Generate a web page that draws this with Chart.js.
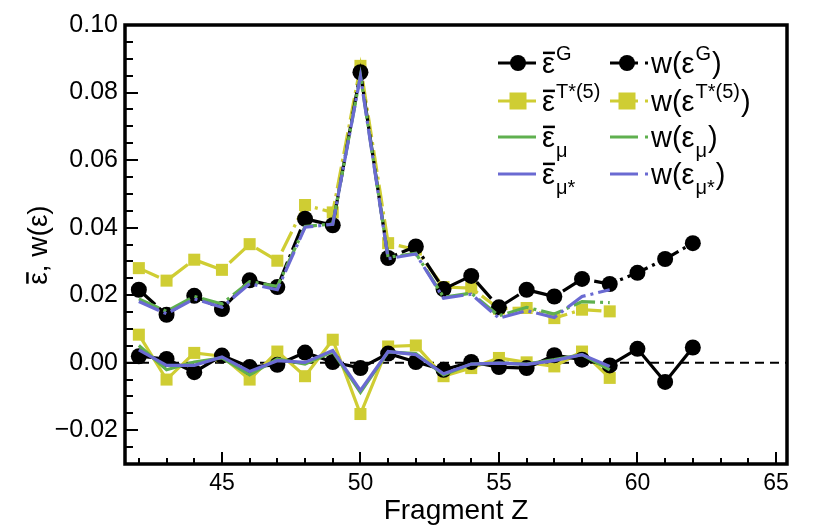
<!DOCTYPE html>
<html>
<head>
<meta charset="utf-8">
<script src="https://cdn.jsdelivr.net/npm/chart.js@4"></script>
<style>
  html, body { margin: 0; padding: 0; background: #fff; }
  #wrap { width: 831px; height: 528px; }
</style>
</head>
<body>
<div id="wrap"><canvas id="chart" width="831" height="528"></canvas></div>
<script>
// fragment charge numbers
const zG = [42, 43, 44, 45, 46, 47, 48, 49, 50, 51, 52, 53, 54, 55, 56, 57, 58, 59, 60, 61, 62];
const zT = [42, 43, 44, 45, 46, 47, 48, 49, 50, 51, 52, 53, 54, 55, 56, 57, 58, 59];

// widths w(eps)
const wG = [0.0216, 0.0142, 0.0198, 0.0159, 0.0244, 0.0224, 0.0426, 0.0407, 0.0860, 0.0310, 0.0344,
            0.0218, 0.0257, 0.0164, 0.0216, 0.0196, 0.0248, 0.0233, 0.0266, 0.0307, 0.0354];
const wT = [0.0280, 0.0243, 0.0305, 0.0275, 0.0351, 0.0302, 0.0467, 0.0445, 0.0879, 0.0354, 0.0335,
            0.0224, 0.0221, 0.0160, 0.0162, 0.0132, 0.0157, 0.0152];
const wMu = [0.0189, 0.0152, 0.0196, 0.0174, 0.0240, 0.0226, 0.0403, 0.0411, 0.0850, 0.0312, 0.0324,
             0.0194, 0.0206, 0.0139, 0.0164, 0.0144, 0.0181, 0.0178];
const wMuS = [0.0181, 0.0145, 0.0189, 0.0164, 0.0234, 0.0216, 0.0401, 0.0410, 0.0848, 0.0308, 0.0322,
              0.0191, 0.0203, 0.0132, 0.0154, 0.0134, 0.0196, 0.0216];

// means eps-bar
const meanG = [0.0019, 0.0011, -0.0028, 0.0021, -0.0013, -0.0006, 0.0030, 0.0002, -0.0016, 0.0027, 0.0002,
               -0.0021, 0.0002, -0.0013, -0.0016, 0.0022, 0.0009, -0.0008, 0.0041, -0.0057, 0.0045];
const meanT = [0.0083, -0.0050, 0.0029, 0.0019, -0.0050, 0.0033, -0.0040, 0.0068, -0.0152, 0.0048, 0.0051,
               -0.0040, -0.0016, 0.0014, 0.0001, -0.0011, 0.0033, -0.0045];
const meanMu = [0.0051, -0.0021, 0.0002, 0.0014, -0.0036, 0.0011, -0.0004, 0.0033, -0.0088, 0.0032, 0.0027,
                -0.0036, -0.0004, -0.0001, -0.0004, 0.0009, 0.0024, -0.0021];
const meanMuS = [0.0038, -0.0008, -0.0008, 0.0017, -0.0026, 0.0006, 0.0001, 0.0036, -0.0082, 0.0033, 0.0024,
                 -0.0033, -0.0004, -0.0001, -0.0005, 0.0006, 0.0024, -0.0011];

const yTicks = [-0.02, 0.00, 0.02, 0.04, 0.06, 0.08, 0.10];
const xTicks = [45, 50, 55, 60, 65];

const BLACK = '#000000';
const YELLOW = '#cfcd33';
const GREEN = '#5fb04f';
const BLUE = '#6a6ad2';
const DASH = [22, 5, 3, 5];
const FONT = '"Liberation Sans", Arial, Helvetica, sans-serif';

const pts = (xs, ys) => xs.map((x, i) => ({ x: x, y: ys[i] }));

function series(label, xs, ys, color, marker, dashed, order) {
    return {
        label: label,
        data: pts(xs, ys),
        borderColor: color,
        backgroundColor: color,
        borderWidth: 3.2,
        borderDash: dashed ? DASH : [],
        pointStyle: marker === 'none' ? false : marker,
        pointRadius: marker === 'circle' ? 8 : (marker === 'rect' ? 8.5 : 0),
        pointBorderWidth: 0,
        tension: 0,
        order: order
    };
}

const datasets = [
    series('meanT', zT, meanT, YELLOW, 'rect', false, 7),
    series('wT', zT, wT, YELLOW, 'rect', true, 6),
    series('meanG', zG, meanG, BLACK, 'circle', false, 5),
    series('wG', zG, wG, BLACK, 'circle', true, 4),
    series('meanMu', zT, meanMu, GREEN, 'none', false, 3),
    series('wMu', zT, wMu, GREEN, 'none', true, 2),
    series('meanMuS', zT, meanMuS, BLUE, 'none', false, 1),
    series('wMuS', zT, wMuS, BLUE, 'none', true, 0)
];

// zero reference line
const zeroLine = {
    id: 'zeroLine',
    beforeDatasetsDraw(chart) {
        const { ctx, chartArea, scales } = chart;
        const y = scales.y.getPixelForValue(0);
        ctx.save();
        ctx.strokeStyle = '#000';
        ctx.lineWidth = 2;
        ctx.setLineDash([9, 6]);
        ctx.beginPath();
        ctx.moveTo(chartArea.left, y);
        ctx.lineTo(chartArea.right, y);
        ctx.stroke();
        ctx.restore();
    }
};

// frame with inward ticks
const frame = {
    id: 'frame',
    afterDraw(chart) {
        const { ctx, chartArea: a, scales } = chart;
        ctx.save();
        ctx.strokeStyle = '#000';
        ctx.lineWidth = 2;
        for (let v = Math.ceil(scales.y.min / 0.005) * 0.005; v <= scales.y.max + 1e-9; v += 0.005) {
            const y = Math.round(scales.y.getPixelForValue(v));
            const major = Math.abs(Math.round(v / 0.02) * 0.02 - v) < 1e-6;
            ctx.beginPath();
            ctx.moveTo(a.left, y);
            ctx.lineTo(a.left + (major ? 13 : 8), y);
            ctx.stroke();
        }
        for (let v = Math.ceil(scales.x.min); v <= scales.x.max; v++) {
            const x = Math.round(scales.x.getPixelForValue(v));
            const major = v % 5 === 0;
            ctx.beginPath();
            ctx.moveTo(x, a.bottom);
            ctx.lineTo(x, a.bottom - (major ? 12 : 6));
            ctx.stroke();
        }
        ctx.lineWidth = 3.5;
        ctx.strokeRect(a.left, a.top, a.right - a.left, a.bottom - a.top);
        ctx.restore();
    }
};

// eps with optional overbar, superscript and subscript
function drawEps(ctx, x, y, bar, sup, sub, size) {
    ctx.font = size + 'px ' + FONT;
    ctx.fillText('ε', x, y);
    const w = ctx.measureText('ε').width;
    if (bar) {
        ctx.fillRect(x + 1, y - size * 0.53 - 6, w - 1, 2.5);
    }
    let end = x + w;
    const small = Math.round(size * 0.68);
    ctx.font = small + 'px ' + FONT;
    if (sup) {
        ctx.fillText(sup, end + 1, y - size * 0.45);
        end += ctx.measureText(sup).width + 1;
    }
    if (sub) {
        ctx.fillText(sub, end + 1, y + size * 0.33);
        end += ctx.measureText(sub).width + 1;
    }
    return end;
}

const legendRows = [
    { color: BLACK, marker: 'circle', sup: 'G', sub: null },
    { color: YELLOW, marker: 'rect', sup: 'T*(5)', sub: null },
    { color: GREEN, marker: null, sup: null, sub: 'μ' },
    { color: BLUE, marker: null, sup: null, sub: 'μ*' }
];
const legendY = [63, 101, 137, 174];

const legend = {
    id: 'customLegend',
    afterDraw(chart) {
        const ctx = chart.ctx;
        ctx.save();
        ctx.textBaseline = 'alphabetic';
        legendRows.forEach((r, i) => {
            const y = legendY[i];
            ctx.strokeStyle = r.color;
            ctx.fillStyle = r.color;
            ctx.lineWidth = 3.2;
            ctx.beginPath();
            ctx.moveTo(498, y);
            ctx.lineTo(536, y);
            ctx.stroke();
            ctx.beginPath();
            ctx.moveTo(610, y);
            ctx.lineTo(638, y);
            ctx.moveTo(645, y);
            ctx.lineTo(648, y);
            ctx.stroke();
            [518, 627].forEach(cx => {
                if (r.marker === 'circle') {
                    ctx.beginPath();
                    ctx.arc(cx, y, 8, 0, Math.PI * 2);
                    ctx.fill();
                } else if (r.marker === 'rect') {
                    ctx.fillRect(cx - 8.5, y - 8.5, 17, 17);
                }
            });
            ctx.fillStyle = '#000';
            const ty = y + 10;
            drawEps(ctx, 542, ty, true, r.sup, r.sub, 29);
            ctx.font = '29px ' + FONT;
            ctx.fillText('w(', 651, ty);
            let x = 651 + ctx.measureText('w(').width;
            x = drawEps(ctx, x, ty, false, r.sup, r.sub, 29);
            ctx.font = '29px ' + FONT;
            ctx.fillText(')', x + 1, ty);
        });
        ctx.restore();
    }
};

// rotated y title
const yTitle = {
    id: 'yTitle',
    afterDraw(chart) {
        const ctx = chart.ctx;
        const size = 28;
        ctx.save();
        ctx.fillStyle = '#000';
        ctx.textBaseline = 'alphabetic';
        ctx.font = size + 'px ' + FONT;
        const rest = ', w(ε)';
        const total = ctx.measureText('ε').width + ctx.measureText(rest).width;
        ctx.translate(47, 245);
        ctx.rotate(-Math.PI / 2);
        const x0 = -total / 2;
        const end = drawEps(ctx, x0, 0, true, null, null, size);
        ctx.font = size + 'px ' + FONT;
        ctx.fillText(rest, end, 0);
        ctx.restore();
    }
};

new Chart(document.getElementById('chart'), {
    type: 'line',
    data: { datasets: datasets },
    options: {
        responsive: false,
        animation: false,
        events: [],
        layout: { padding: { top: 25, right: 44, left: 0, bottom: 0 } },
        plugins: {
            legend: { display: false },
            tooltip: { enabled: false }
        },
        scales: {
            x: {
                type: 'linear',
                min: 41.5,
                max: 65.4,
                afterFit: s => { s.height = 64; },
                afterBuildTicks: s => { s.ticks = xTicks.map(v => ({ value: v })); },
                grid: { display: false, drawTicks: false },
                border: { display: false },
                ticks: { color: '#000', font: { size: 23, family: FONT }, padding: 6 },
                title: {
                    display: true,
                    text: 'Fragment Z',
                    color: '#000',
                    font: { size: 28, family: FONT },
                    padding: { top: 0, bottom: 0 }
                }
            },
            y: {
                min: -0.03,
                max: 0.10,
                afterFit: s => { s.width = 125; },
                afterBuildTicks: s => { s.ticks = yTicks.map(v => ({ value: v })); },
                grid: { display: false, drawTicks: false },
                border: { display: false },
                ticks: {
                    color: '#000',
                    font: { size: 25, family: FONT },
                    padding: 7,
                    callback: v => (v < 0 ? '\u2212' : '') + Math.abs(v).toFixed(2)
                }
            }
        }
    },
    plugins: [zeroLine, frame, legend, yTitle]
});
</script>
</body>
</html>
